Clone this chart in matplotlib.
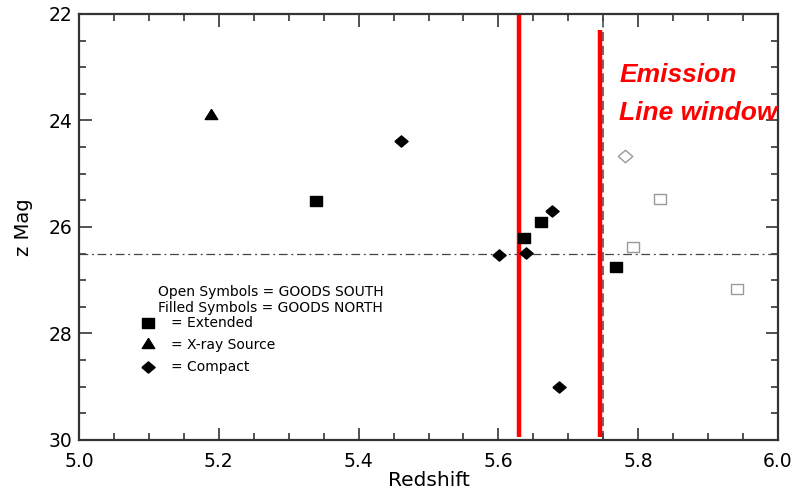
import matplotlib
matplotlib.use("Agg")
import matplotlib.pyplot as plt
from matplotlib.ticker import MultipleLocator

plt.rcParams['font.family'] = ['DejaVu Sans']

# GOODS North (filled symbols)
north_ext_z = [5.339, 5.661, 5.636, 5.768]
north_ext_mag = [25.51, 25.90, 26.20, 26.75]
north_xray_z = [5.189]
north_xray_mag = [23.88]
north_cmp_z = [5.461, 5.676, 5.601, 5.640, 5.686]
north_cmp_mag = [24.39, 25.70, 26.53, 26.49, 29.00]

# GOODS South (open symbols)
south_ext_z = [5.831, 5.792, 5.942]
south_ext_mag = [25.48, 26.37, 27.16]
south_cmp_z = [5.781]
south_cmp_mag = [24.66]

mag_limit = 26.5
z_cut = 5.75
window_lo = 5.63
window_hi = 5.745

diamond = [(-1, 0), (0, 0.85), (1, 0), (0, -0.85), (-1, 0)]
square = [(-1, -0.82), (1, -0.82), (1, 0.82), (-1, 0.82), (-1, -0.82)]
triangle = [(0, 0.8), (-1, -0.8), (1, -0.8), (0, 0.8)]

fig = plt.figure(figsize=(7.99, 4.91), dpi=100)
ax = fig.add_axes([0.0989, 0.1039, 0.8748, 0.8676])

ax.set_xlim(5.0, 6.0)
ax.set_ylim(30, 22)

ax.axhline(mag_limit, color='#444444', lw=0.9, ls=(0, (7, 3, 1.5, 3)))
ax.axvline(z_cut, color='#444444', lw=1.1, ls=(0, (6, 3)))

ax.plot([window_lo, window_lo], [22.0, 29.94], color='#ff0000', lw=3.2, solid_capstyle='butt')
ax.plot([window_hi, window_hi], [22.3, 29.94], color='#ff0000', lw=3.2, solid_capstyle='butt')

ax.plot(north_ext_z, north_ext_mag, ls='none', marker=square, ms=8.2, color='black')
ax.plot(north_xray_z, north_xray_mag, ls='none', marker=triangle, ms=9, color='black')
ax.plot(north_cmp_z, north_cmp_mag, ls='none', marker=diamond, ms=9.5, color='black')
ax.plot(south_ext_z, south_ext_mag, ls='none', marker=square, ms=8.6, mfc='white',
        mec='#9a9a9a', mew=1.0)
ax.plot(south_cmp_z, south_cmp_mag, ls='none', marker=diamond, ms=10.5, mfc='white',
        mec='#9a9a9a', mew=1.0)

ax.text(5.773, 23.277, 'Emission', color='#ff0000', fontsize=19,
        family='Liberation Sans', fontweight='bold', fontstyle='italic',
        va='baseline', ha='left')
ax.text(5.773, 23.99, 'Line window', color='#ff0000', fontsize=19,
        family='Liberation Sans', fontweight='bold', fontstyle='italic',
        va='baseline', ha='left')

# symbol key
ax.text(5.113, 27.22, 'Open Symbols = GOODS SOUTH', fontsize=10, ha='left', va='center')
ax.text(5.113, 27.52, 'Filled Symbols = GOODS NORTH', fontsize=10, ha='left', va='center')
ax.plot([5.099], [27.80], marker=square, ms=8.2, color='black')
ax.text(5.132, 27.80, '= Extended', fontsize=10, ha='left', va='center')
ax.plot([5.099], [28.18], marker=triangle, ms=9, color='black')
ax.text(5.132, 28.22, '= X-ray Source', fontsize=10, ha='left', va='center')
ax.plot([5.099], [28.63], marker=diamond, ms=9.5, color='black')
ax.text(5.132, 28.63, '= Compact', fontsize=10, ha='left', va='center')

ax.xaxis.set_major_locator(MultipleLocator(0.2))
ax.xaxis.set_minor_locator(MultipleLocator(0.05))
ax.yaxis.set_major_locator(MultipleLocator(2))
ax.yaxis.set_minor_locator(MultipleLocator(0.5))
ax.xaxis.set_major_formatter(plt.FormatStrFormatter('%.1f'))
ax.yaxis.set_major_formatter(plt.FormatStrFormatter('%d'))

ax.tick_params(which='both', direction='in', top=True, right=True,
               color='#333333', width=1.2, labelsize=13.5)
ax.tick_params(which='major', length=9)
ax.tick_params(which='minor', length=5)
ax.tick_params(axis='x', which='major', pad=8.5)
ax.tick_params(axis='y', which='major', pad=5)
for s in ax.spines.values():
    s.set_color('#333333')
    s.set_linewidth(1.6)

ax.set_xlabel('Redshift', fontsize=14.5, labelpad=0)
ax.set_ylabel('z Mag', fontsize=14, labelpad=11)

fig.savefig('out.png', dpi=100)
